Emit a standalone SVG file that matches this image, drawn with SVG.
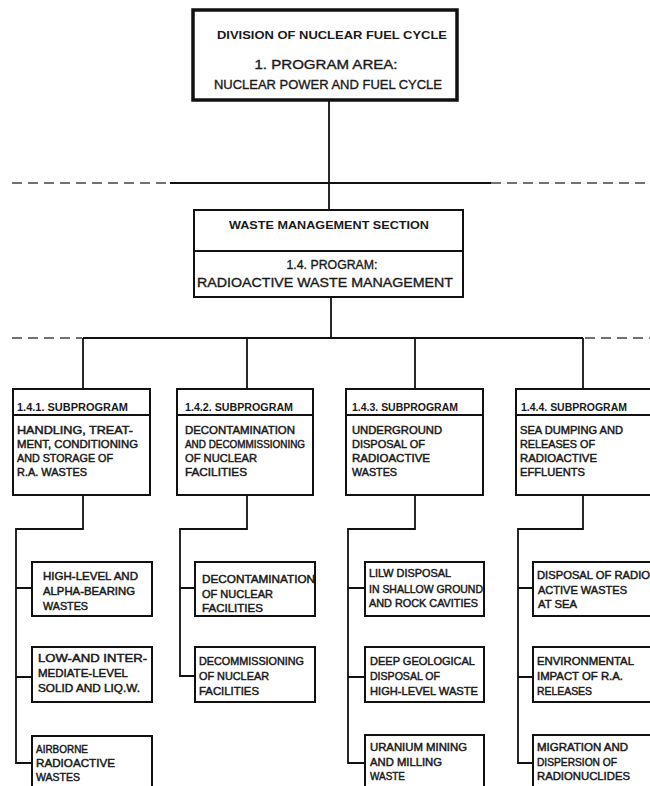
<svg xmlns="http://www.w3.org/2000/svg" width="650" height="786" viewBox="0 0 650 786">
<style>
.box{fill:#fff;stroke:#111;stroke-width:2}
.top{fill:#fff;stroke:#111;stroke-width:3.5}
.ln{fill:none;stroke:#111;stroke-width:1.8}
.dash{fill:none;stroke:#444;stroke-width:1.6;stroke-dasharray:10 6}
text{font-family:"Liberation Sans",Arial,sans-serif;fill:#1a1a1a}
.h{font-weight:bold;font-size:10px}
.t{font-size:10.5px;stroke:#1a1a1a;stroke-width:0.45}
.c{text-anchor:middle}
.big{font-size:12.5px;stroke:#1a1a1a;stroke-width:0.35}
.bigb{font-size:11.5px;font-weight:bold}
</style>
<rect width="650" height="786" fill="#fff"/>
<g id="connectors">
<line class="ln" x1="329" y1="100" x2="329" y2="210"/>
<line class="dash" x1="12" y1="183" x2="170" y2="183"/>
<line class="ln" x1="170" y1="183" x2="491" y2="183"/>
<line class="dash" x1="491" y1="183" x2="650" y2="183"/>
<line class="ln" x1="331" y1="297" x2="331" y2="338"/>
<line class="dash" x1="12" y1="338" x2="82" y2="338"/>
<line class="ln" x1="83" y1="338" x2="583" y2="338"/>
<line class="dash" x1="585" y1="338" x2="650" y2="338"/>
<line class="ln" x1="83" y1="338" x2="83" y2="389"/>
<line class="ln" x1="247" y1="338" x2="247" y2="389"/>
<line class="ln" x1="415" y1="338" x2="415" y2="389"/>
<line class="ln" x1="583" y1="338" x2="583" y2="389"/>
<path class="ln" d="M83 495 V529 H16 V763 H32 M16 588 H32 M16 677 H32"/>
<path class="ln" d="M247 495 V529 H180 V676 H195 M180 588 H195"/>
<path class="ln" d="M415 495 V529 H348 V763 H365 M348 588 H365 M348 677 H365"/>
<path class="ln" d="M583 495 V529 H518 V763 H533 M518 588 H533 M518 677 H533"/>
</g>
<g id="division">
<rect class="top" x="193" y="10" width="264" height="90"/>
<text class="bigb c" x="332" y="39" textLength="230" lengthAdjust="spacingAndGlyphs">DIVISION OF NUCLEAR FUEL CYCLE</text>
<text class="big c" x="326" y="69" textLength="143" lengthAdjust="spacingAndGlyphs">1. PROGRAM  AREA:</text>
<text class="big c" x="328" y="89" textLength="228" lengthAdjust="spacingAndGlyphs">NUCLEAR POWER AND FUEL CYCLE</text>
</g>
<g id="section">
<rect class="box" x="194" y="210" width="269" height="87"/>
<line class="ln" x1="194" y1="251" x2="463" y2="251"/>
<text class="bigb c" x="329" y="229" textLength="200" lengthAdjust="spacingAndGlyphs" style="font-size:11px">WASTE MANAGEMENT SECTION</text>
<text class="big c" x="332" y="269" textLength="91" lengthAdjust="spacingAndGlyphs">1.4. PROGRAM:</text>
<text class="big c" x="325" y="287" textLength="256" lengthAdjust="spacingAndGlyphs">RADIOACTIVE WASTE MANAGEMENT</text>
</g>
<g id="sub1">
<rect class="box" x="13" y="389" width="137" height="106"/>
<line class="ln" x1="13" y1="415" x2="150" y2="415"/>
<text class="h" x="17" y="411" textLength="111" lengthAdjust="spacingAndGlyphs">1.4.1.  SUBPROGRAM</text>
<text class="t" x="17" y="434" textLength="116" lengthAdjust="spacingAndGlyphs">HANDLING, TREAT-</text>
<text class="t" x="17" y="448" textLength="121" lengthAdjust="spacingAndGlyphs">MENT, CONDITIONING</text>
<text class="t" x="17" y="462" textLength="96" lengthAdjust="spacingAndGlyphs">AND STORAGE OF</text>
<text class="t" x="17" y="476" textLength="70" lengthAdjust="spacingAndGlyphs">R.A. WASTES</text>
</g>
<g id="sub2">
<rect class="box" x="177" y="389" width="136" height="106"/>
<line class="ln" x1="177" y1="415" x2="313" y2="415"/>
<text class="h" x="185" y="411" textLength="108" lengthAdjust="spacingAndGlyphs">1.4.2. SUBPROGRAM</text>
<text class="t" x="185" y="434" textLength="110" lengthAdjust="spacingAndGlyphs">DECONTAMINATION</text>
<text class="t" x="185" y="448" textLength="120" lengthAdjust="spacingAndGlyphs">AND DECOMMISSIONING</text>
<text class="t" x="185" y="462" textLength="72" lengthAdjust="spacingAndGlyphs">OF NUCLEAR</text>
<text class="t" x="185" y="476" textLength="62" lengthAdjust="spacingAndGlyphs">FACILITIES</text>
</g>
<g id="sub3">
<rect class="box" x="346" y="389" width="137" height="106"/>
<line class="ln" x1="346" y1="415" x2="483" y2="415"/>
<text class="h" x="352" y="411" textLength="106" lengthAdjust="spacingAndGlyphs">1.4.3. SUBPROGRAM</text>
<text class="t" x="352" y="434" textLength="90" lengthAdjust="spacingAndGlyphs">UNDERGROUND</text>
<text class="t" x="352" y="448" textLength="73" lengthAdjust="spacingAndGlyphs">DISPOSAL OF</text>
<text class="t" x="352" y="462" textLength="78" lengthAdjust="spacingAndGlyphs">RADIOACTIVE</text>
<text class="t" x="352" y="476" textLength="45" lengthAdjust="spacingAndGlyphs">WASTES</text>
</g>
<g id="sub4">
<rect class="box" x="516" y="389" width="144" height="106"/>
<line class="ln" x1="516" y1="415" x2="660" y2="415"/>
<text class="h" x="521" y="411" textLength="106" lengthAdjust="spacingAndGlyphs">1.4.4. SUBPROGRAM</text>
<text class="t" x="520" y="434" textLength="103" lengthAdjust="spacingAndGlyphs">SEA DUMPING AND</text>
<text class="t" x="520" y="448" textLength="75" lengthAdjust="spacingAndGlyphs">RELEASES OF</text>
<text class="t" x="520" y="462" textLength="77" lengthAdjust="spacingAndGlyphs">RADIOACTIVE</text>
<text class="t" x="520" y="476" textLength="65" lengthAdjust="spacingAndGlyphs">EFFLUENTS</text>
</g>
<g id="c1a">
<rect class="box" x="32" y="562" width="120" height="54"/>
<text class="t" x="43" y="580" textLength="95" lengthAdjust="spacingAndGlyphs">HIGH-LEVEL AND</text>
<text class="t" x="43" y="595" textLength="92" lengthAdjust="spacingAndGlyphs">ALPHA-BEARING</text>
<text class="t" x="43" y="610" textLength="45" lengthAdjust="spacingAndGlyphs">WASTES</text>
</g>
<g id="c1b">
<rect class="box" x="32" y="647" width="120" height="55"/>
<text class="t" x="38" y="662" textLength="109" lengthAdjust="spacingAndGlyphs">LOW-AND INTER-</text>
<text class="t" x="38" y="677" textLength="90" lengthAdjust="spacingAndGlyphs">MEDIATE-LEVEL</text>
<text class="t" x="38" y="692" textLength="102" lengthAdjust="spacingAndGlyphs">SOLID AND LIQ.W.</text>
</g>
<g id="c1c">
<rect class="box" x="32" y="736" width="120" height="70"/>
<text class="t" x="36" y="753" textLength="52" lengthAdjust="spacingAndGlyphs">AIRBORNE</text>
<text class="t" x="36" y="767" textLength="79" lengthAdjust="spacingAndGlyphs">RADIOACTIVE</text>
<text class="t" x="36" y="781" textLength="44" lengthAdjust="spacingAndGlyphs">WASTES</text>
</g>
<g id="c2a">
<rect class="box" x="195" y="562" width="120" height="54"/>
<text class="t" x="202" y="583" textLength="113" lengthAdjust="spacingAndGlyphs">DECONTAMINATION</text>
<text class="t" x="202" y="598" textLength="71" lengthAdjust="spacingAndGlyphs">OF NUCLEAR</text>
<text class="t" x="202" y="612" textLength="61" lengthAdjust="spacingAndGlyphs">FACILITIES</text>
</g>
<g id="c2b">
<rect class="box" x="195" y="647" width="120" height="55"/>
<text class="t" x="199" y="665" textLength="105" lengthAdjust="spacingAndGlyphs">DECOMMISSIONING</text>
<text class="t" x="199" y="680" textLength="70" lengthAdjust="spacingAndGlyphs">OF NUCLEAR</text>
<text class="t" x="199" y="695" textLength="60" lengthAdjust="spacingAndGlyphs">FACILITIES</text>
</g>
<g id="c3a">
<rect class="box" x="365" y="562" width="119" height="54"/>
<text class="t" x="369" y="577" textLength="82" lengthAdjust="spacingAndGlyphs">LILW DISPOSAL</text>
<text class="t" x="369" y="593" textLength="114" lengthAdjust="spacingAndGlyphs">IN SHALLOW GROUND</text>
<text class="t" x="369" y="607" textLength="109" lengthAdjust="spacingAndGlyphs">AND  ROCK CAVITIES</text>
</g>
<g id="c3b">
<rect class="box" x="365" y="647" width="119" height="55"/>
<text class="t" x="370" y="665" textLength="105" lengthAdjust="spacingAndGlyphs">DEEP GEOLOGICAL</text>
<text class="t" x="370" y="680" textLength="70" lengthAdjust="spacingAndGlyphs">DISPOSAL OF</text>
<text class="t" x="370" y="695" textLength="108" lengthAdjust="spacingAndGlyphs">HIGH-LEVEL WASTE</text>
</g>
<g id="c3c">
<rect class="box" x="365" y="735" width="119" height="70"/>
<text class="t" x="370" y="751" textLength="97" lengthAdjust="spacingAndGlyphs">URANIUM MINING</text>
<text class="t" x="370" y="766" textLength="72" lengthAdjust="spacingAndGlyphs">AND MILLING</text>
<text class="t" x="370" y="780" textLength="35" lengthAdjust="spacingAndGlyphs">WASTE</text>
</g>
<g id="c4a">
<rect class="box" x="533" y="562" width="127" height="54"/>
<text class="t" x="537" y="579" textLength="113" lengthAdjust="spacingAndGlyphs">DISPOSAL OF RADIO</text>
<text class="t" x="538" y="594" textLength="89" lengthAdjust="spacingAndGlyphs">ACTIVE WASTES</text>
<text class="t" x="538" y="608" textLength="39" lengthAdjust="spacingAndGlyphs">AT SEA</text>
</g>
<g id="c4b">
<rect class="box" x="533" y="647" width="127" height="55"/>
<text class="t" x="537" y="665" textLength="97" lengthAdjust="spacingAndGlyphs">ENVIRONMENTAL</text>
<text class="t" x="537" y="680" textLength="86" lengthAdjust="spacingAndGlyphs">IMPACT OF R.A.</text>
<text class="t" x="537" y="695" textLength="55" lengthAdjust="spacingAndGlyphs">RELEASES</text>
</g>
<g id="c4c">
<rect class="box" x="533" y="735" width="127" height="70"/>
<text class="t" x="537" y="751" textLength="91" lengthAdjust="spacingAndGlyphs">MIGRATION AND</text>
<text class="t" x="537" y="766" textLength="80" lengthAdjust="spacingAndGlyphs">DISPERSION OF</text>
<text class="t" x="537" y="780" textLength="93" lengthAdjust="spacingAndGlyphs">RADIONUCLIDES</text>
</g>
</svg>
